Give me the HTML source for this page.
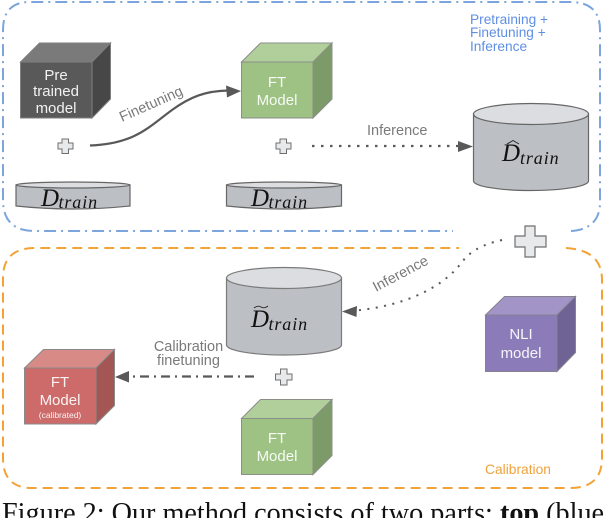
<!DOCTYPE html>
<html>
<head>
<meta charset="utf-8">
<style>
html,body{margin:0;padding:0;background:#fff;width:606px;height:518px;overflow:hidden}
svg{display:block}
text{font-family:"Liberation Sans",sans-serif}
.w{fill:#fff;font-size:15px;text-anchor:middle;fill-opacity:.92}
.g{fill:#7a7a7a;font-size:14.500px}
.m{font-family:"Liberation Serif",serif;font-style:italic;fill:#111}
</style>
</head>
<body>
<svg width="606" height="518" viewBox="0 0 606 518" xmlns="http://www.w3.org/2000/svg">
<!-- group boxes -->
<path d="M571 231 Q601 229 600 200 V30 Q600 2 570 2 H30 Q3 2 3 30 V200 Q3 231 35 231 H453" fill="none" stroke="#7ba5dc" stroke-width="2" stroke-dasharray="12 5 2 5"/>
<path d="M566 248 Q602 250 602 280 V458 Q602 488 570 488 H32 Q3 488 3 458 V278 Q3 248 35 248 H459" fill="none" stroke="#f4a236" stroke-width="2" stroke-dasharray="10 6"/>

<!-- Pretrained cube -->
<g stroke="#7f7f7f" stroke-width="1">
<rect x="20.500" y="62" width="71.500" height="56" fill="#595959"/>
<path d="M20.500 62 L39.500 43 H110.500 L92 62 Z" fill="#7a7a7a"/>
<path d="M92 62 L110.500 43 V99 L92 118 Z" fill="#474747"/>
</g>
<text class="w" x="56" y="80">Pre</text>
<text class="w" x="56" y="96">trained</text>
<text class="w" x="56" y="113">model</text>

<!-- FT cube top -->
<g stroke="#8a8f88" stroke-width="1">
<rect x="241.500" y="62" width="71.500" height="56" fill="#9dc283"/>
<path d="M241.500 62 L260.500 43 H332 L313 62 Z" fill="#b1cf9b"/>
<path d="M313 62 L332 43 V99 L313 118 Z" fill="#7d9b69"/>
</g>
<text class="w" x="277" y="87">FT</text>
<text class="w" x="277" y="105">Model</text>

<!-- FT cube bottom -->
<g stroke="#8a8f88" stroke-width="1">
<rect x="241.500" y="418.500" width="71.500" height="56" fill="#9dc283"/>
<path d="M241.500 418.500 L260.500 399.500 H332 L313 418.500 Z" fill="#b1cf9b"/>
<path d="M313 418.500 L332 399.500 V455.500 L313 474.500 Z" fill="#7d9b69"/>
</g>
<text class="w" x="277" y="443">FT</text>
<text class="w" x="277" y="461">Model</text>

<!-- NLI cube -->
<g stroke="#85838f" stroke-width="1">
<rect x="485.500" y="315" width="71.500" height="56.500" fill="#8b7bb9"/>
<path d="M485.500 315 L504.500 296.500 H575.500 L557 315 Z" fill="#a294c7"/>
<path d="M557 315 L575.500 296.500 V352.500 L557 371.500 Z" fill="#6f6294"/>
</g>
<text class="w" x="521" y="339">NLI</text>
<text class="w" x="521" y="358">model</text>

<!-- Calibrated cube -->
<g stroke="#8a8a8a" stroke-width="1">
<rect x="24.500" y="368" width="71.500" height="56" fill="#cd6a6a"/>
<path d="M24.500 368 L43.500 349.500 H114.500 L96 368 Z" fill="#d88a86"/>
<path d="M96 368 L114.500 349.500 V405.500 L96 424 Z" fill="#a45655"/>
</g>
<text class="w" x="60" y="387">FT</text>
<text class="w" x="60" y="405">Model</text>
<text class="w" x="60" y="418" style="font-size:8.500px">(calibrated)</text>

<!-- D_train 1 -->
<g stroke="#666" stroke-width="1.200">
<path d="M16 185 V206 Q73 212 130 206 V185 Z" fill="#bcbfc3"/>
<ellipse cx="73" cy="185" rx="57" ry="3" fill="#dcdde0"/>
</g>
<text class="m" x="41" y="206" font-size="25">D</text>
<text class="m" x="58.500" y="208" font-size="18" letter-spacing="0.900">train</text>

<!-- D_train 2 -->
<g stroke="#666" stroke-width="1.200">
<path d="M226.500 185 V206 Q284 212 341.500 206 V185 Z" fill="#bcbfc3"/>
<ellipse cx="284" cy="185" rx="57.500" ry="3" fill="#dcdde0"/>
</g>
<text class="m" x="251" y="206" font-size="25">D</text>
<text class="m" x="268.500" y="208" font-size="18" letter-spacing="0.900">train</text>

<!-- D hat -->
<g stroke="#666" stroke-width="1.200">
<path d="M473.500 114 V181 A57.500 9.500 0 0 0 588.500 181 V114 Z" fill="#bcbfc3"/>
<ellipse cx="531" cy="114" rx="57.500" ry="10.500" fill="#dcdde0"/>
</g>
<text class="m" x="502" y="161" font-size="25">D</text>
<path d="M507 144 L513 140.500 L519 144" fill="none" stroke="#222" stroke-width="0.900"/>
<text class="m" x="520" y="164" font-size="18" letter-spacing="0.900">train</text>

<!-- D tilde -->
<g stroke="#7a7a7a" stroke-width="1.200">
<path d="M226.500 278 V345 A57.500 10 0 0 0 341.500 345 V278 Z" fill="#bcbfc3"/>
<ellipse cx="284" cy="278" rx="57.500" ry="10.500" fill="#dcdde0"/>
</g>
<text class="m" x="251" y="327" font-size="25">D</text>
<path d="M254 308 Q258 305 261 307 Q264 309 268 306" fill="none" stroke="#222" stroke-width="0.900"/>
<text class="m" x="268.500" y="330" font-size="18" letter-spacing="0.900">train</text>

<!-- plus signs -->
<g fill="#e8e9eb" stroke="#6f6f6f" stroke-width="1">
<path d="M62 139 h6.500 v4 h4.500 v6 h-4.500 v4.500 h-6.500 v-4.500 h-4 v-6 h4 z"/>
<path d="M280 139 h6.500 v4 h4.500 v6 h-4.500 v4.500 h-6.500 v-4.500 h-4 v-6 h4 z"/>
<path d="M280.500 369 h6.500 v5 h5 v6 h-5 v5 h-6.500 v-5 h-5 v-6 h5 z"/>
<path d="M525 226 h10 v10 h11 v11 h-11 v10 h-10 v-10 h-10 v-11 h10 z" stroke-width="1.200"/>
</g>

<!-- Finetuning arrow -->
<path d="M90 145.500 C135 144 150 126 172 110 C190 97 205 91 228 90.500" fill="none" stroke="#595959" stroke-width="2.200"/>
<path d="M241 91 L226 85.500 L227 97.500 Z" fill="#595959"/>
<text class="g" transform="translate(122 122) rotate(-24)">Finetuning</text>

<!-- Inference arrow top -->
<path d="M312 146 H458" fill="none" stroke="#595959" stroke-width="2.200" stroke-dasharray="2.500 6.500"/>
<path d="M473 146.500 L458 141 V152 Z" fill="#595959"/>
<text class="g" x="367" y="135">Inference</text>

<!-- Inference arrow curved -->
<path d="M502 240 C480 245 470 252 462 262 C445 285 410 305 356 310.500" fill="none" stroke="#595959" stroke-width="2" stroke-dasharray="2 6.500"/>
<path d="M342 311.500 L357 306 L356.500 317 Z" fill="#595959"/>
<text class="g" transform="translate(376 292) rotate(-28)">Inference</text>

<!-- Calibration arrow -->
<path d="M254 376.500 H131" fill="none" stroke="#595959" stroke-width="2.200" stroke-dasharray="9 5 2 5"/>
<path d="M115 377 L129 371 V382.500 Z" fill="#595959"/>
<text class="g" x="188.500" y="351" text-anchor="middle">Calibration</text>
<text class="g" x="188.500" y="365" text-anchor="middle">finetuning</text>

<!-- labels -->
<g fill="#5f8fe3" font-size="13.700">
<text x="470" y="24">Pretraining +</text>
<text x="470" y="37">Finetuning +</text>
<text x="470" y="51">Inference</text>
</g>
<text x="485" y="474" fill="#f0a23c" font-size="13.800">Calibration</text>

<!-- caption -->
<text x="2" y="522" style="font-family:'Liberation Serif',serif" font-size="28.200" fill="#111">Figure 2: Our method consists of two parts: <tspan font-weight="bold">top</tspan> (blue</text>
</svg>
</body>
</html>
